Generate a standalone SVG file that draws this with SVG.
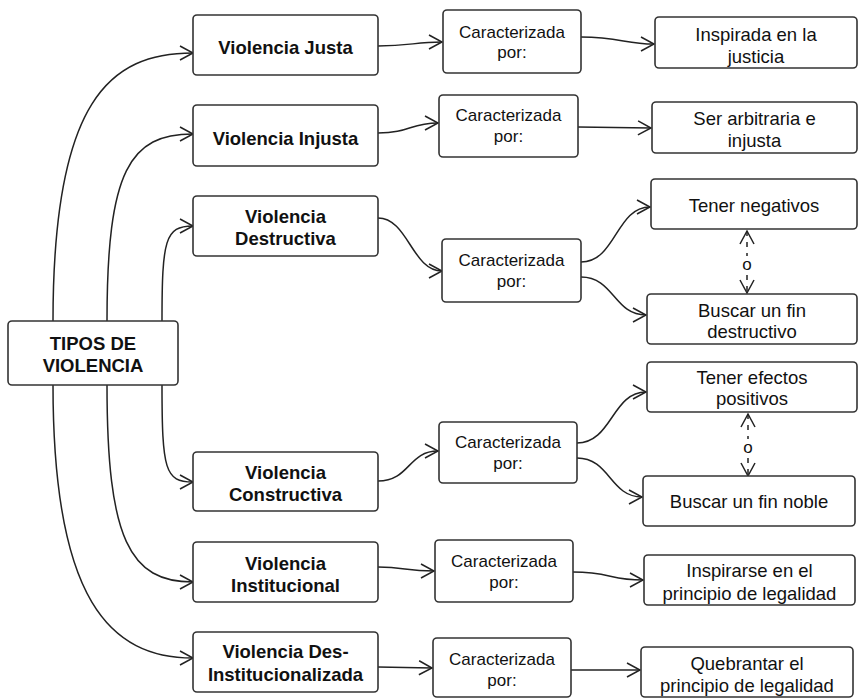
<svg xmlns="http://www.w3.org/2000/svg" width="859" height="698" viewBox="0 0 859 698">
<defs>
<marker id="arr" markerUnits="userSpaceOnUse" viewBox="-15 -9 17 18" markerWidth="17" markerHeight="18" refX="0" refY="0" orient="auto-start-reverse">
<path d="M-13,-7 L0,0 L-13,7" fill="none" stroke="#222" stroke-width="1.5"/>
</marker>
<style>
.box{fill:#fff;stroke:#333;stroke-width:1.6}
.b{font-family:"Liberation Sans",Arial,sans-serif;font-weight:bold;font-size:18.5px;fill:#111;text-anchor:middle}
.c{font-family:"Liberation Sans",Arial,sans-serif;font-size:17px;fill:#111;text-anchor:middle}
.r{font-family:"Liberation Sans",Arial,sans-serif;font-size:18.5px;fill:#111;text-anchor:middle}
.ln{fill:none;stroke:#222;stroke-width:1.5;marker-end:url(#arr)}
.dl{fill:none;stroke:#222;stroke-width:1.5;stroke-dasharray:5,6;marker-start:url(#arr);marker-end:url(#arr)}
</style>
</defs>
<rect width="859" height="698" fill="#fff"/>
<g id="connectors">
<path class="ln" d="M53,321 C53,100 110,53 193,53"/>
<path class="ln" d="M107,321 C107,170 130,134 193,134"/>
<path class="ln" d="M162,321 C162,240 165,226 193,226"/>
<path class="ln" d="M162,385 C162,470 165,482 193,482"/>
<path class="ln" d="M107,385 C107,540 130,582 193,582"/>
<path class="ln" d="M53,385 C53,600 110,658 193,658"/>
<path class="ln" d="M378,46 C410,46 415,42 442,42"/>
<path class="ln" d="M581,37 C620,37 625,44 654,44"/>
<path class="ln" d="M378,133 C410,133 410,123 438,123"/>
<path class="ln" d="M578,127 L651,128"/>
<path class="ln" d="M378,218 C408,218 412,271 442,271"/>
<path class="ln" d="M581,262 C616,262 616,207 650,207"/>
<path class="ln" d="M581,277 C614,277 614,315 646,315"/>
<path class="ln" d="M378,481 C410,481 408,451 438,451"/>
<path class="ln" d="M577,443 C612,443 612,392 646,392"/>
<path class="ln" d="M577,458 C610,458 610,497 642,497"/>
<path class="ln" d="M378,567 C405,567 405,571 434,571"/>
<path class="ln" d="M573,572 C610,572 610,580 643,580"/>
<path class="ln" d="M378,667 L432,668"/>
<path class="ln" d="M571,670 L640,670"/>
<path class="dl" d="M747,231 L747,293"/>
<rect x="740" y="256" width="14" height="16" fill="#fff"/>
<text class="c" x="747" y="270">o</text>
<path class="dl" d="M748,414 L748,476"/>
<rect x="741" y="439" width="14" height="16" fill="#fff"/>
<text class="c" x="748" y="453">o</text>
</g>
<g id="tipos">
<rect class="box" x="8" y="321" width="170" height="64" rx="4"/>
<text class="b" x="93" y="350">TIPOS DE</text>
<text class="b" x="93" y="372">VIOLENCIA</text>
</g>
<g id="justa">
<rect class="box" x="193" y="15" width="185" height="60" rx="4"/>
<text class="b" x="285.5" y="54">Violencia Justa</text>
</g>
<g id="injusta">
<rect class="box" x="193" y="105" width="185" height="61" rx="4"/>
<text class="b" x="285.5" y="145">Violencia Injusta</text>
</g>
<g id="destructiva">
<rect class="box" x="193" y="196" width="185" height="60" rx="4"/>
<text class="b" x="285.5" y="223">Violencia</text>
<text class="b" x="285.5" y="245">Destructiva</text>
</g>
<g id="constructiva">
<rect class="box" x="193" y="452" width="185" height="59" rx="4"/>
<text class="b" x="285.5" y="479">Violencia</text>
<text class="b" x="285.5" y="501">Constructiva</text>
</g>
<g id="institucional">
<rect class="box" x="193" y="542" width="185" height="60" rx="4"/>
<text class="b" x="285.5" y="570">Violencia</text>
<text class="b" x="285.5" y="592">Institucional</text>
</g>
<g id="desinstitucionalizada">
<rect class="box" x="193" y="632" width="185" height="60" rx="4"/>
<text class="b" x="285.5" y="658">Violencia Des-</text>
<text class="b" x="285.5" y="681">Institucionalizada</text>
</g>
<g id="carac1">
<rect class="box" x="443" y="10" width="138" height="63" rx="4"/>
<text class="c" x="512" y="37.5">Caracterizada</text>
<text class="c" x="512" y="58">por:</text>
</g>
<g id="carac2">
<rect class="box" x="439" y="95" width="139" height="62" rx="4"/>
<text class="c" x="508.5" y="121">Caracterizada</text>
<text class="c" x="508.5" y="142">por:</text>
</g>
<g id="carac3">
<rect class="box" x="442" y="239" width="139" height="63" rx="4"/>
<text class="c" x="511.5" y="266">Caracterizada</text>
<text class="c" x="511.5" y="287">por:</text>
</g>
<g id="carac4">
<rect class="box" x="439" y="422" width="138" height="61" rx="4"/>
<text class="c" x="508" y="448">Caracterizada</text>
<text class="c" x="508" y="469">por:</text>
</g>
<g id="carac5">
<rect class="box" x="435" y="540" width="138" height="62" rx="4"/>
<text class="c" x="504" y="567">Caracterizada</text>
<text class="c" x="504" y="588">por:</text>
</g>
<g id="carac6">
<rect class="box" x="433" y="638" width="138" height="59" rx="4"/>
<text class="c" x="502" y="665">Caracterizada</text>
<text class="c" x="502" y="686">por:</text>
</g>
<g id="inspirada">
<rect class="box" x="655" y="17" width="202" height="51" rx="4"/>
<text class="r" x="756" y="41">Inspirada en la</text>
<text class="r" x="756" y="63">justicia</text>
</g>
<g id="arbitraria">
<rect class="box" x="652" y="102" width="205" height="51" rx="4"/>
<text class="r" x="754.5" y="125">Ser arbitraria e</text>
<text class="r" x="754.5" y="147">injusta</text>
</g>
<g id="negativos">
<rect class="box" x="651" y="179" width="206" height="50" rx="4"/>
<text class="r" x="754" y="212">Tener negativos</text>
</g>
<g id="findestructivo">
<rect class="box" x="647" y="294" width="210" height="50" rx="4"/>
<text class="r" x="752" y="317">Buscar un fin</text>
<text class="r" x="752" y="338">destructivo</text>
</g>
<g id="positivos">
<rect class="box" x="647" y="362" width="210" height="50" rx="4"/>
<text class="r" x="752" y="384">Tener efectos</text>
<text class="r" x="752" y="405">positivos</text>
</g>
<g id="finnoble">
<rect class="box" x="643" y="476" width="212" height="50" rx="4"/>
<text class="r" x="749" y="508">Buscar un fin noble</text>
</g>
<g id="inspirarse">
<rect class="box" x="644" y="555" width="211" height="50" rx="4"/>
<text class="r" x="749.5" y="577">Inspirarse en el</text>
<text class="r" x="749.5" y="600">principio de legalidad</text>
</g>
<g id="quebrantar">
<rect class="box" x="641" y="647" width="212" height="50" rx="4"/>
<text class="r" x="747" y="670">Quebrantar el</text>
<text class="r" x="747" y="692">principio de legalidad</text>
</g>
</svg>
